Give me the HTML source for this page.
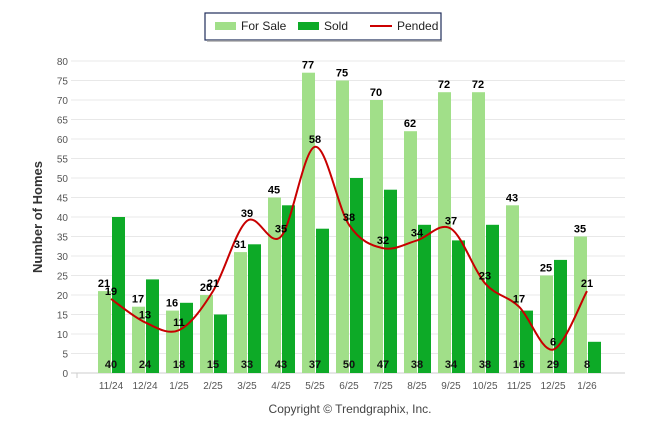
<!DOCTYPE html>
<html><head><meta charset="utf-8"><style>
body{margin:0;background:#fff;width:646px;height:434px;overflow:hidden;font-family:"Liberation Sans",sans-serif}
</style></head><body>
<svg width="646" height="434" id="c">
<rect x="205" y="13" width="236" height="27" fill="#fff" stroke="#1f2d5a" stroke-width="1.2"/>
<line x1="207" y1="41" x2="442" y2="41" stroke="#aaa" stroke-width="1.5"/>
<g><rect x="215" y="22" width="21" height="8" fill="#a1df89"/><text x="241" y="30" font-size="12" fill="#222">For Sale</text></g>
<g><rect x="298" y="22" width="21" height="8" fill="#0daa27"/><text x="324" y="30" font-size="12" fill="#222">Sold</text></g>
<g><line x1="370" y1="26" x2="392" y2="26" stroke="#c00" stroke-width="2"/><text x="397" y="30" font-size="12" fill="#222">Pended</text></g>
<text transform="translate(42,217) rotate(-90)" text-anchor="middle" font-size="13" font-weight="bold" fill="#333">Number of Homes</text>
<text x="350" y="413" text-anchor="middle" font-size="12" fill="#444">Copyright © Trendgraphix, Inc.</text>
<g id="grid"></g><g id="bars"></g><g id="line"></g><g id="labels"></g>
</svg>
<script>
const categories=["11/24","12/24","1/25","2/25","3/25","4/25","5/25","6/25","7/25","8/25","9/25","10/25","11/25","12/25","1/26"];
const forSale=[21,17,16,20,31,45,77,75,70,62,72,72,43,25,35];
const sold=[40,24,18,15,33,43,37,50,47,38,34,38,16,29,8];
const pended=[19,13,11,21,39,35,58,38,32,34,37,23,17,6,21];
const yTicks=[0,5,10,15,20,25,30,35,40,45,50,55,60,65,70,75,80];
const NS="http://www.w3.org/2000/svg";
const y=v=>373-v*(312/80);
const x=i=>111+i*34.0;
function mk(t,a,p){const e=document.createElementNS(NS,t);for(const k in a)e.setAttribute(k,a[k]);document.getElementById(p).appendChild(e);return e;}
yTicks.forEach(t=>{
 const l=mk('line',{x1:71,x2:625,y1:y(t),y2:y(t),stroke:t?'#e8e8e8':'#ccc','stroke-width':1},'grid');
 
 
 const tx=mk('text',{x:68,y:y(t)+4,'text-anchor':'end','font-size':10,fill:'#555'},'grid');tx.textContent=t;
 
 
});
mk('line',{x1:77,x2:77,y1:373,y2:378,stroke:'#ccc'},'grid');
categories.forEach((c,i)=>{
 const tx=mk('text',{x:x(i),y:389,'text-anchor':'middle','font-size':10,fill:'#555'},'grid');tx.textContent=c;
 
 
 const a=mk('rect',{x:x(i)-13,y:y(forSale[i]),width:13,height:373-y(forSale[i]),fill:'#a1df89'},'bars');
 
 
 const b=mk('rect',{x:x(i)+1,y:y(sold[i]),width:13,height:373-y(sold[i]),fill:'#0daa27'},'bars');
 
 
 const t1=mk('text',{x:x(i)-7,y:y(forSale[i])-4,'text-anchor':'middle','font-size':11,'font-weight':'bold',fill:'#000'},'labels');t1.textContent=forSale[i];
 
 
 const t2=mk('text',{x:x(i),y:368,'text-anchor':'middle','font-size':11,'font-weight':'bold',fill:'#111'},'labels');t2.textContent=sold[i];
 
 
 const t3=mk('text',{x:x(i),y:y(pended[i])-4,'text-anchor':'middle','font-size':11,'font-weight':'bold',fill:'#000'},'labels');t3.textContent=pended[i];
 
 
});
const P=pended.map((v,i)=>[x(i),y(v)]);
let d='M'+P[0][0]+','+P[0][1];
for(let i=0;i<P.length-1;i++){
 const p0=P[i-1]||P[i],p1=P[i],p2=P[i+1],p3=P[i+2]||P[i+1];
 d+=` C${p1[0]+(p2[0]-p0[0])/6},${p1[1]+(p2[1]-p0[1])/6} ${p2[0]-(p3[0]-p1[0])/6},${p2[1]-(p3[1]-p1[1])/6} ${p2[0]},${p2[1]}`;
}
const pl=mk('path',{d:d,fill:'none',stroke:'#c80000','stroke-width':2},'line');


</script>
</body></html>
